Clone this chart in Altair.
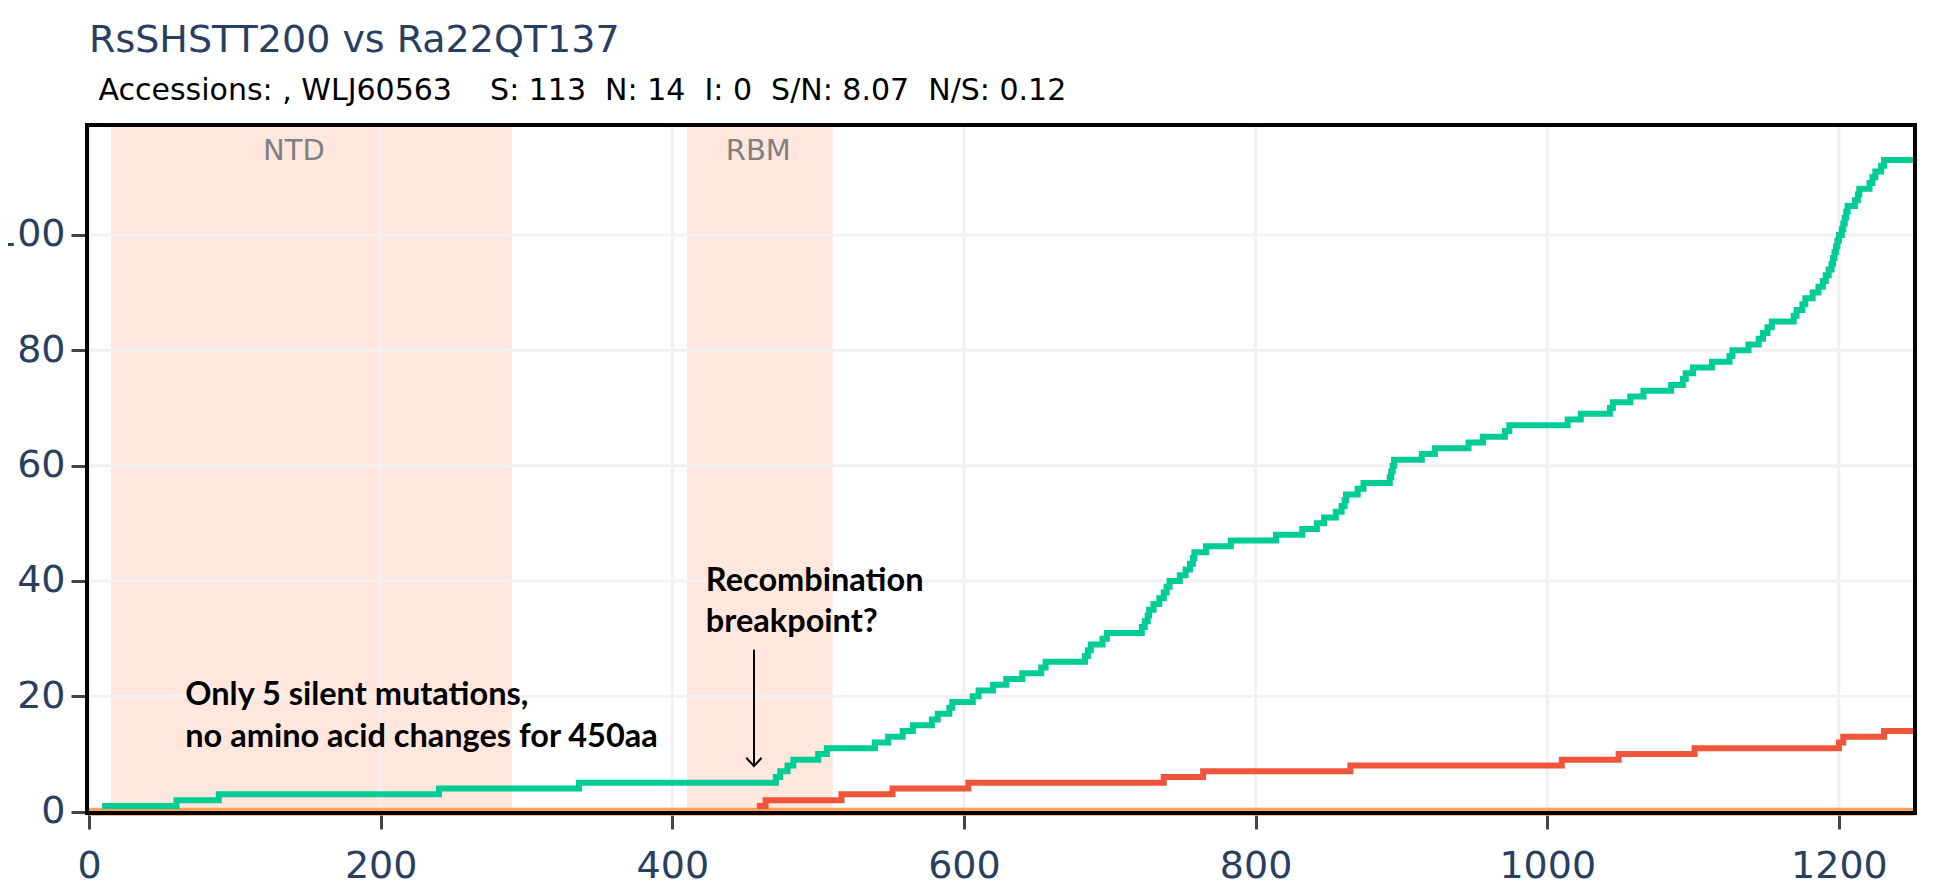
import altair as alt
import pandas as pd

# ---------------- data ----------------
TITLE = "RsSHSTT200 vs Ra22QT137"
SUBTITLE = "\u200b\u00a0Accessions: , WLJ60563\u00a0\u00a0\u00a0\u00a0S: 113\u00a0\u00a0N: 14\u00a0\u00a0I: 0\u00a0\u00a0S/N: 8.07\u00a0\u00a0N/S: 0.12"

# cumulative synonymous (S) changes along the spike
s_pos = [9, 60, 89, 240, 336, 471, 474, 479, 483, 500, 506, 539, 548, 558, 565, 578, 582, 590, 592,
         606, 610, 620, 629, 640, 653, 656, 683, 685, 687, 695, 698, 722, 724, 726, 727, 730, 734,
         737, 739, 741, 748, 752, 755, 757, 758, 766, 783, 814, 832, 842, 847, 855, 859, 861, 862,
         870, 874, 892, 893, 894, 895, 914, 923, 946, 956, 971, 974, 1014, 1023, 1043, 1045, 1057,
         1066, 1085, 1093, 1095, 1100, 1113, 1125, 1127, 1138, 1145, 1148, 1151, 1154, 1169, 1171,
         1175, 1177, 1182, 1186, 1189, 1191, 1193, 1195, 1196, 1197, 1198, 1199, 1200, 1202, 1203,
         1204, 1205, 1206, 1211, 1213, 1214, 1221, 1223, 1225, 1229, 1231, 1252]
s_cum = [1, 2, 3, 4, 5, 6, 7, 8, 9, 10, 11, 12, 13, 14, 15, 16, 17, 18, 19,
         20, 21, 22, 23, 24, 25, 26, 27, 28, 29, 30, 31, 32, 33, 34, 35, 36, 37,
         38, 39, 40, 41, 42, 43, 44, 45, 46, 47, 48, 49, 50, 51, 52, 53, 54, 55,
         56, 57, 58, 59, 60, 61, 62, 63, 64, 65, 66, 67, 68, 69, 70, 71, 72,
         73, 74, 75, 76, 77, 78, 79, 80, 81, 82, 83, 84, 85, 86, 87,
         88, 89, 90, 91, 92, 93, 94, 95, 96, 97, 98, 99, 100, 101, 102,
         103, 104, 105, 106, 107, 108, 109, 110, 111, 112, 113, 113]

# cumulative non-synonymous (N) changes
n_pos = [458, 464, 516, 551, 603, 737, 764, 865, 1010, 1049, 1101, 1200, 1203, 1231, 1252]
n_cum = [1, 2, 3, 4, 5, 6, 7, 8, 9, 10, 11, 12, 13, 14, 14]

# indels (I)
i_pos = [0, 1252]
i_cum = [0, 0]

region_names = ["NTD", "RBM"]
region_start = [15, 410]
region_end = [290, 510]
region_label_x = [140.5, 459]

x_ticks = [0, 200, 400, 600, 800, 1000, 1200]
y_ticks = [0, 20, 40, 60, 80, 100]

NOTE1 = ["Only 5 silent mutations,", "no amino acid changes for 450aa"]
NOTE2 = ["Recombination", "breakpoint?"]

# ---------------- chart ----------------
W, H = 1828, 688
xscale = alt.Scale(domain=[-1.4, 1252.2], nice=False, zero=False)
yscale = alt.Scale(domain=[-0.23, 119.06], nice=False, zero=False)
xaxis = alt.Axis(values=x_ticks, grid=False, domain=False, title=None, labelPadding=18, format="d")
yaxis = alt.Axis(values=y_ticks, grid=False, domain=False, title=None, labelPadding=6, format="d")

one = pd.DataFrame({"k": [0]})

regions = pd.DataFrame({"name": region_names, "start": region_start, "end": region_end,
                        "lx": region_label_x})

shade = alt.Chart(regions).mark_rect(color="#FFA07A", opacity=0.25).encode(
    x=alt.X("start:Q", scale=xscale, axis=xaxis),
    x2="end:Q",
    y=alt.value(0), y2=alt.value(H))

xgrid = alt.Chart(pd.DataFrame({"v": x_ticks})).mark_rule(color="#F1F1F1", strokeWidth=3).encode(
    x=alt.X("v:Q", scale=xscale, axis=xaxis))
ygrid = alt.Chart(pd.DataFrame({"v": y_ticks})).mark_rule(color="#F1F1F1", strokeWidth=3).encode(
    y=alt.Y("v:Q", scale=yscale, axis=yaxis))

region_text = alt.Chart(regions).mark_text(font="DejaVu Sans", fontSize=29, color="#808080",
                                           baseline="alphabetic", align="center").encode(
    x=alt.X("lx:Q", scale=xscale, axis=xaxis),
    y=alt.datum(113.0),
    text="name:N")


def step_line(xs, ys, color, width):
    df = pd.DataFrame({"pos": xs, "count": ys})
    return alt.Chart(df).mark_line(interpolate="step-after", color=color, strokeWidth=width).encode(
        x=alt.X("pos:Q", scale=xscale, axis=xaxis),
        y=alt.Y("count:Q", scale=yscale, axis=yaxis))


line_s = step_line(s_pos, s_cum, "#00CC96", 6)
line_n = step_line(n_pos, n_cum, "#EF553B", 6)
line_i = step_line(i_pos, i_cum, "#FFA15A", 8)

note1 = alt.Chart(one).mark_text(text=NOTE1, font="Lato", fontWeight="bold", fontSize=32.5,
                                 lineHeight=42, align="left", baseline="alphabetic",
                                 color="black").encode(
    x=alt.datum(66), y=alt.datum(18.5))
note2 = alt.Chart(one).mark_text(text=NOTE2, font="Lato", fontWeight="bold", fontSize=32.5,
                                 lineHeight=41, align="left", baseline="alphabetic",
                                 color="black").encode(
    x=alt.datum(423), y=alt.datum(38.2))

arrow_shaft = alt.Chart(one).mark_rule(color="black", strokeWidth=2).encode(
    x=alt.datum(456), y=alt.datum(28.1), y2=alt.datum(7.9))
arrow_head = alt.Chart(one).mark_point(shape="M-1,-1.08L0,0L1,-1.08", filled=False, size=237,
                                       strokeWidth=2, color="black", opacity=1).encode(
    x=alt.datum(456), y=alt.datum(7.9))

border = alt.Chart(one).mark_rect(fillOpacity=0, stroke="black", strokeWidth=4).encode(
    x=alt.value(0), x2=alt.value(W), y=alt.value(0), y2=alt.value(H))

chart = alt.layer(
    shade, xgrid, ygrid, region_text, line_i, line_n, line_s,
    note1, note2, arrow_shaft, arrow_head, border
).properties(
    width=W, height=H,
    title=alt.TitleParams(text=TITLE, subtitle=SUBTITLE, anchor="start", frame="group",
                          font="DejaVu Sans", fontSize=38, fontWeight="normal", color="#2a3f5f",
                          subtitleFont="DejaVu Sans", subtitleFontSize=30, subtitleColor="black",
                          subtitlePadding=15.5, offset=17.5, dx=2),
    padding={"left": 79, "top": 117, "right": 15, "bottom": 80},
    autosize=alt.AutoSizeParams(type="none"),
).configure_view(stroke=None).configure_axis(
    labelFont="DejaVu Sans", labelFontSize=38, labelColor="#2a3f5f",
    tickColor="#444444", tickWidth=3, tickSize=16,
)

chart.save("out.html", embed_options={"renderer": "svg", "actions": False})
